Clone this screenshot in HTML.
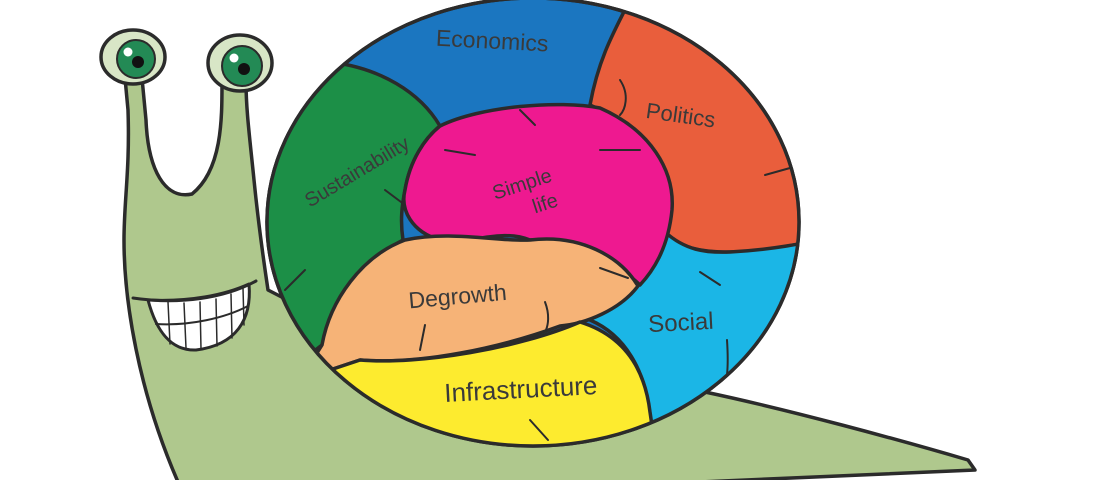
<!DOCTYPE html>
<html><head><meta charset="utf-8"><style>
html,body{margin:0;padding:0;background:#fff;}
svg{display:block;}
text{font-family:"Liberation Sans",sans-serif;fill:#3a3a3a;}
</style></head><body>
<svg width="1100" height="480" viewBox="0 0 1100 480" xmlns="http://www.w3.org/2000/svg">
<defs><clipPath id="sh"><ellipse cx="533" cy="222" rx="266" ry="224"/></clipPath></defs>
<g stroke="#2b2b2b" stroke-width="3.5" stroke-linejoin="round" stroke-linecap="round">
<path d="M125,78 L128,110 C130,170 124,200 124,240 C124,300 138,390 178,482 L700,482 L975,470 L968,460 C900,440 790,410 705,392 L560,440 L268,290 C262,250 258,220 254,180 C250,140 246,110 246,82 L222,82 C222,120 222,170 192,194 C165,200 148,170 146,120 L142,78 Z" fill="#afc88d"/>
<ellipse cx="133" cy="57" rx="32" ry="27" fill="#d8e6c6"/>
<circle cx="136" cy="59" r="19" fill="#238a55" stroke-width="2"/>
<circle cx="138" cy="62" r="6" fill="#111" stroke="none"/>
<circle cx="128" cy="52" r="4.5" fill="#fff" stroke="none"/>
<ellipse cx="240" cy="63" rx="32" ry="28" fill="#d8e6c6"/>
<circle cx="242" cy="66" r="20" fill="#238a55" stroke-width="2"/>
<circle cx="244" cy="69" r="6" fill="#111" stroke="none"/>
<circle cx="234" cy="58" r="4.5" fill="#fff" stroke="none"/>
<path d="M148,300 C190,302 225,295 249,284 C252,320 236,345 196,350 C170,351 156,330 148,300Z" fill="#fff" stroke-width="3"/>
<path d="M133,298 C180,305 225,298 256,281" fill="none" stroke-width="3"/>
<path d="M156,324 C190,326 225,318 248,306" fill="none" stroke-width="2"/>
<g stroke-width="1.5">
<path d="M168,302 L170,344 M184,303 L186,348 M200,302 L201,349 M216,299 L217,346 M231,294 L232,338 M243,288 L244,325"/>
</g>
<ellipse cx="533" cy="222" rx="266" ry="224" fill="#1b76c0"/>
<g clip-path="url(#sh)">
<path d="M590,105 C600,50 620,22 640,-20 L840,-20 L840,236 C790,246 760,252 730,252 C700,252 680,248 665,232 C672,180 645,130 590,105Z" fill="#e95e3c"/>
<path d="M840,236 L840,480 L652,480 L650,415 C645,370 625,335 590,320 L637,285 C650,270 660,250 665,232 C685,250 705,253 730,252 C770,250 800,244 840,236Z" fill="#1bb6e6"/>
<path d="M330,62 L250,30 L250,400 L322,345 C335,300 365,260 403,240 C400,220 402,205 405,190 C410,160 425,138 440,126 C420,92 380,68 330,62Z" fill="#1c8f47"/>
<path d="M440,126 C480,106 560,100 600,108 C650,130 675,170 672,210 C668,250 652,272 640,285 C600,248 565,238 530,240 C500,228 470,245 440,240 C412,232 400,210 405,190 C410,160 425,138 440,126Z" fill="#ee1990"/>
<path d="M300,380 L322,345 C330,300 362,256 405,240 C450,230 500,242 530,240 C580,234 620,256 638,286 C620,310 585,324 560,326 C500,348 420,365 360,360 Z" fill="#f6b377"/>
<path d="M360,360 C420,365 520,348 580,322 C625,336 645,370 650,412 L660,480 L330,480 L300,380 Z" fill="#fdeb2f"/>
<g fill="none" stroke-width="2">
<path d="M285,290 L305,270"/><path d="M385,190 L405,205"/><path d="M520,110 L535,125"/>
<path d="M445,150 L475,155"/><path d="M600,150 L640,150"/><path d="M620,80 C630,95 625,110 620,115"/>
<path d="M765,175 L790,168"/><path d="M700,272 L720,285"/>
<path d="M425,325 L420,350"/><path d="M545,302 C550,315 548,325 546,330"/><path d="M530,420 L548,440"/>
<path d="M727,340 C728,355 728,365 727,375"/><path d="M600,268 L628,278"/>
</g>
</g>
<ellipse cx="533" cy="222" rx="266" ry="224" fill="none"/>
</g>
<text x="436" y="49" font-size="23" transform="rotate(3 500 40)">Economics</text>
<text x="646" y="124" font-size="22" transform="rotate(8 690 115)">Politics</text>
<text x="280" y="180" font-size="20" transform="rotate(-31 345 140)">Sustainability</text>
<text x="490" y="188" font-size="20" transform="rotate(-18 530 178)">Simple</text>
<text x="530" y="208" font-size="20" transform="rotate(-18 550 195)">life</text>
<text x="408" y="303" font-size="23" transform="rotate(-5 470 292)">Degrowth</text>
<text x="648" y="330" font-size="24" transform="rotate(-3 690 318)">Social</text>
<text x="444" y="397" font-size="26" fill="#222" transform="rotate(-3 540 385)">Infrastructure</text>
</svg>
</body></html>
